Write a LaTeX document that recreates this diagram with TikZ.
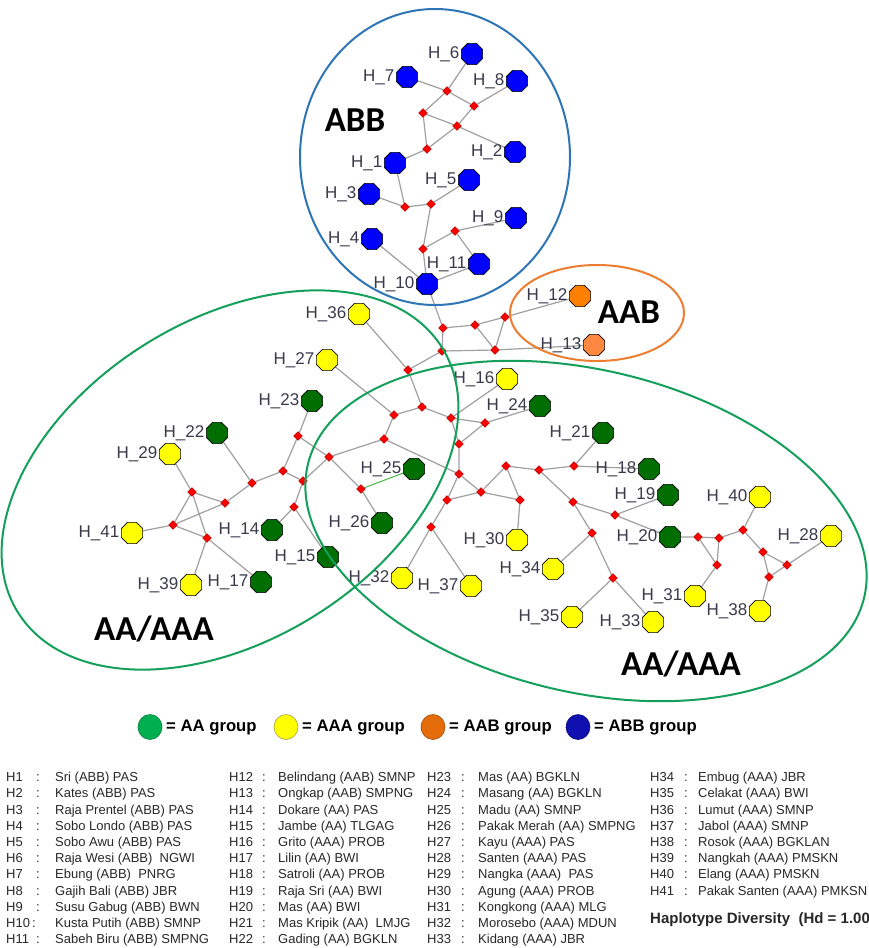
\documentclass[tikz,border=0pt]{standalone}
\usepackage{fontspec}
\setmainfont{Liberation Sans}
\newfontfamily\calfont{Carlito}
\usetikzlibrary{shapes.geometric,backgrounds}
\definecolor{hblue}{RGB}{0,0,255}
\definecolor{hgreen}{RGB}{0,110,0}
\definecolor{hyellow}{RGB}{255,255,0}
\definecolor{horange}{RGB}{255,128,0}
\definecolor{horange2}{RGB}{255,136,64}
\definecolor{mred}{RGB}{255,0,0}
\definecolor{lgray}{RGB}{160,160,160}
\definecolor{labc}{RGB}{58,58,74}
\definecolor{lstc}{RGB}{40,40,40}
\definecolor{cblue}{RGB}{46,117,182}
\definecolor{cgreen}{RGB}{20,160,90}
\definecolor{corange}{RGB}{237,125,49}
\definecolor{lgreen}{RGB}{0,176,80}
\definecolor{lorange}{RGB}{228,108,10}
\definecolor{lblue}{RGB}{16,16,176}
\begin{document}
\begin{tikzpicture}[x=1pt,y=-1pt,
  hap/.style={regular polygon, regular polygon sides=8, minimum size=23pt, inner sep=0pt, draw=black, line width=0.7pt},
  abb/.style={hap, fill=hblue},
  aa/.style={hap, fill=hgreen},
  aaa/.style={hap, fill=hyellow},
  aab/.style={hap, fill=horange},
  med/.style={diamond, fill=mred, draw=mred!60!black, line width=0.4pt, minimum size=9pt, inner sep=0pt},
  lk/.style={draw=lgray, line width=1.2pt},
  lab/.style={font=\fontsize{17}{17}\selectfont, text=labc, inner sep=1.5pt},
  hl/.style={label={[lab]left:#1}},
  grp/.style={font=\calfont\bfseries\fontsize{35}{35}\selectfont, anchor=base, inner sep=0pt},
  ring/.style={line width=2pt},
  lgd/.style={font=\bfseries\fontsize{16.7}{16.7}\selectfont, anchor=west, inner sep=0pt},
  lgm/.style={line width=0.6pt},
  lst/.style={font=\fontsize{13}{13}\selectfont, text=lstc, anchor=base west, inner sep=0pt},
  lsc/.style={font=\fontsize{13}{13}\selectfont, text=lstc, anchor=base, inner sep=0pt}
]
\useasboundingbox (0,0) rectangle (868,948);

% ---------- ABB haplotypes ----------
\node[abb, hl=H\_6]  (H6)  at (472,54) {};
\node[abb, hl=H\_7]  (H7)  at (407,77) {};
\node[abb, hl=H\_8]  (H8)  at (517,81) {};
\node[abb, hl=H\_2]  (H2)  at (515,152) {};
\node[abb, hl=H\_1]  (H1)  at (395,163) {};
\node[abb, hl=H\_5]  (H5)  at (469,180) {};
\node[abb, hl=H\_3]  (H3)  at (369,194) {};
\node[abb, hl=H\_9]  (H9)  at (516,218) {};
\node[abb, hl=H\_4]  (H4)  at (372,239) {};
\node[abb, hl=H\_11] (H11) at (479,264) {};
\node[abb, hl=H\_10] (H10) at (427,284) {};
% ABB medians
\node[med] (m1) at (447,91) {};
\node[med] (m2) at (474,106) {};
\node[med] (m3) at (423,113) {};
\node[med] (m4) at (457,126) {};
\node[med] (m5) at (427,149) {};
\node[med] (m6) at (405,207) {};
\node[med] (m7) at (431,204) {};
\node[med] (m8) at (455,231) {};
\node[med] (m9) at (423,249) {};

% ---------- AAB ----------
\node[aab, hl=H\_12] (H12) at (580,296) {};
\node[hap, fill=horange2, hl=H\_13] (H13) at (594,345) {};

% ---------- central medians ----------
\node[med] (n1) at (443,328) {};
\node[med] (n2) at (475,325) {};
\node[med] (n3) at (505,317) {};
\node[med] (n4) at (442,351) {};
\node[med] (n5) at (495,350) {};
\node[med] (n6) at (408,370) {};
\node[med] (n7) at (422,407) {};
\node[med] (n8) at (394,415) {};
\node[med] (n9) at (451,418) {};
\node[med] (n10) at (485,423) {};
\node[med] (n11) at (384,439) {};
\node[med] (n12) at (459,444) {};
\node[med] (n13) at (329,457) {};
\node[med] (n14) at (303,481) {};
\node[med] (n15) at (361,489) {};
\node[med] (n16) at (459,474) {};
\node[med] (n17) at (481,492) {};
\node[med] (n18) at (506,466) {};
\node[med] (n19) at (539,470) {};
\node[med] (n20) at (574,466) {};
\node[med] (n21) at (520,500) {};
\node[med] (n22) at (447,500) {};
\node[med] (n23) at (431,527) {};
\node[med] (n24) at (573,502) {};
\node[med] (n25) at (592,533) {};
\node[med] (n26) at (615,515) {};
\node[med] (n27) at (613,578) {};
% left medians
\node[med] (q1) at (298,436) {};
\node[med] (q2) at (283,471) {};
\node[med] (q4) at (252,483) {};
\node[med] (q5) at (294,507) {};
\node[med] (q6) at (225,503) {};
\node[med] (q7) at (192,492) {};
\node[med] (q8) at (173,525) {};
\node[med] (q9) at (207,538) {};
% right medians
\node[med] (p1) at (698,537) {};
\node[med] (p2) at (719,538) {};
\node[med] (p3) at (717,565) {};
\node[med] (p4) at (743,530) {};
\node[med] (p5) at (763,552) {};
\node[med] (p6) at (787,565) {};
\node[med] (p7) at (769,577) {};

% ---------- AA / AAA haplotypes ----------
\node[aaa, hl=H\_36] (H36) at (359,314) {};
\node[aaa, hl=H\_27] (H27) at (327,360) {};
\node[aa,  hl=H\_23] (H23) at (312,401) {};
\node[aa,  hl=H\_22] (H22) at (217,433) {};
\node[aaa, hl=H\_29] (H29) at (170,454) {};
\node[aaa, hl=H\_41] (H41) at (132,533) {};
\node[aaa, hl=H\_39] (H39) at (191,585) {};
\node[aa,  hl=H\_17] (H17) at (261,582) {};
\node[aa,  hl=H\_14] (H14) at (272,530) {};
\node[aa,  hl=H\_15] (H15) at (328,557) {};
\node[aa,  hl=H\_26] (H26) at (382,523) {};
\node[aa,  hl=H\_25] (H25) at (414,469) {};
\node[aaa, hl=H\_32] (H32) at (402,578) {};
\node[aaa, hl=H\_37] (H37) at (471,586) {};
\node[aaa, hl=H\_16] (H16) at (507,379) {};
\node[aa,  hl=H\_24] (H24) at (540,406) {};
\node[aa,  hl=H\_21] (H21) at (603,433) {};
\node[aa,  hl=H\_18] (H18) at (649,469) {};
\node[aa,  hl=H\_19] (H19) at (668,495) {};
\node[aa,  hl=H\_20] (H20) at (670,537) {};
\node[aaa, hl=H\_30] (H30) at (517,540) {};
\node[aaa, hl=H\_34] (H34) at (553,569) {};
\node[aaa, hl=H\_35] (H35) at (572,617) {};
\node[aaa, hl=H\_33] (H33) at (653,622) {};
\node[aaa, hl=H\_31] (H31) at (695,596) {};
\node[aaa, hl=H\_40] (H40) at (760,497) {};
\node[aaa, hl=H\_28] (H28) at (831,536) {};
\node[aaa, hl=H\_38] (H38) at (760,611) {};

% ---------- links ----------
\begin{scope}[on background layer]
\fill[white] (0,0) rectangle (868,948);
\draw[lk] (H6)--(m1) (H7)--(m1) (m1)--(m2) (m2)--(H8) (m1)--(m3)
  (m3)--(m4) (m4)--(H2) (m2)--(m4) (m4)--(m5) (m3)--(m5) (m5)--(H1)
  (H1)--(m6) (H3)--(m6) (m6)--(m7) (m7)--(H5) (m7)--(m9) (m9)--(m8)
  (m8)--(H9) (m8)--(H11) (H11)--(H10) (m9)--(H10) (H4)--(H10) (H10)--(n1);
\draw[lk] (n1)--(n2) (n2)--(n3) (n3)--(H12) (n1)--(n4) (n2)--(n5) (n3)--(n5)
  (n4)--(n5) (n5)--(H13) (n4)--(n6) (H36)--(n6) (n6)--(n7) (H27)--(n8)
  (n8)--(n7) (n7)--(n9) (n9)--(H16) (n9)--(n10) (n10)--(H24) (n9)--(n12)
  (n10)--(n12) (n8)--(n11) (n11)--(n16) (n12)--(n16) (n16)--(n17) (n16)--(n22)
  (n22)--(n17) (n17)--(n21) (n17)--(n18) (n18)--(n21) (n18)--(n19) (n19)--(n20)
  (n20)--(H21) (n20)--(H18) (n19)--(n24) (n24)--(n26) (n26)--(H19) (n26)--(H20)
  (n24)--(n25) (n25)--(H34) (n25)--(n27) (n27)--(H35) (n27)--(H33) (n21)--(H30)
  (n22)--(n23) (n23)--(H32) (n23)--(H37);
\draw[lk] (n11)--(n13) (q1)--(n13) (n13)--(n15) (n15)--(H26) (n13)--(n14)
  (H23)--(q1) (q1)--(q2) (q2)--(n14) (q2)--(q4) (n14)--(q5) (q5)--(H14) (q5)--(H15)
  (q4)--(H22) (q4)--(q6) (q6)--(q7) (q7)--(H29) (q7)--(q8) (q6)--(q8) (q8)--(H41)
  (q8)--(q9) (q9)--(H39) (q7)--(q9) (q9)--(H17);
\draw[draw=green!60!black!70, line width=1pt] (n15)--(H25);
\draw[lk] (H20)--(p1) (p1)--(p2) (p1)--(p3) (p2)--(p3) (p3)--(H31) (p2)--(p4)
  (p4)--(H40) (p4)--(p5) (p5)--(p6) (p5)--(p7) (p6)--(p7) (p6)--(H28) (p7)--(H38);
\end{scope}

% ---------- group outlines ----------
\draw[ring, cblue] (435,157) ellipse [x radius=135, y radius=148];
\draw[ring, corange] (597,313) ellipse [x radius=87, y radius=48];
\draw[ring, cgreen, rotate around={32:(230,480)}] (230,480) ellipse [x radius=250, y radius=160];
\draw[ring, cgreen, rotate around={-13.5:(586,531)}] (586,531) ellipse [x radius=286, y radius=161];

\node[grp] (gABB) at (355,131) {ABB};
\node[grp] (gAAB) at (629,323) {AAB};
\node[grp] (gL) at (154,640) {AA/AAA};
\node[grp] (gR) at (681,675) {AA/AAA};

% ---------- legend ----------
\draw[lgm, fill=lgreen, draw=lgreen!70!black] (150,727) ellipse [x radius=12, y radius=12.5];
\node[lgd] (lg1) at (166,728) {= AA group};
\draw[lgm, fill=hyellow, draw=yellow!60!black] (286,727) ellipse [x radius=12, y radius=12.5];
\node[lgd] (lg2) at (302,728) {= AAA group};
\draw[lgm, fill=lorange, draw=lorange!70!black] (433,727) ellipse [x radius=12, y radius=12.5];
\node[lgd] (lg3) at (449,728) {= AAB group};
\draw[lgm, fill=lblue, draw=lblue!70!black] (578,727) ellipse [x radius=12, y radius=12.5];
\node[lgd] (lg4) at (594,728) {= ABB group};

% ---------- list ----------
\foreach \h/\t [count=\k from 0] in {H1/Sri (ABB) PAS, H2/Kates (ABB) PAS, H3/Raja Prentel (ABB) PAS,
  H4/Sobo Londo (ABB) PAS, H5/Sobo Awu (ABB) PAS, H6/Raja Wesi (ABB)\ \ NGWI, H7/Ebung (ABB)\ \ PNRG,
  H8/Gajih Bali (ABB) JBR, H9/Susu Gabug (ABB) BWN, H10/Kusta Putih (ABB) SMNP, H11/Sabeh Biru (ABB) SMPNG}{
  \node[lst] (a\k) at (6,781.7+16.2*\k) {\h};
  \node[lsc] (ac\k) at ({\k==9 ? 34 : 38},781.7+16.2*\k) {:};
  \node[lst] (at\k) at (55,781.7+16.2*\k) {\t};
}
\foreach \h/\t [count=\k from 0] in {H12/Belindang (AAB) SMNP, H13/Ongkap (AAB) SMPNG, H14/Dokare (AA) PAS,
  H15/Jambe (AA) TLGAG, H16/Grito (AAA) PROB, H17/Lilin (AA) BWI, H18/Satroli (AA) PROB,
  H19/Raja Sri (AA) BWI, H20/Mas (AA) BWI, H21/Mas Kripik (AA)\ \ LMJG, H22/Gading (AA) BGKLN}{
  \node[lst] (b\k) at (229,781.7+16.2*\k) {\h};
  \node[lsc] (bc\k) at (264,781.7+16.2*\k) {:};
  \node[lst] (bt\k) at (278,781.7+16.2*\k) {\t};
}
\foreach \h/\t [count=\k from 0] in {H23/Mas (AA) BGKLN, H24/Masang (AA) BGKLN, H25/Madu (AA) SMNP,
  H26/Pakak Merah (AA) SMPNG, H27/Kayu (AAA) PAS, H28/Santen (AAA) PAS, H29/Nangka (AAA)\ \ PAS,
  H30/Agung (AAA) PROB, H31/Kongkong (AAA) MLG, H32/Morosebo (AAA) MDUN, H33/Kidang (AAA) JBR}{
  \node[lst] (c\k) at (427,781.7+16.2*\k) {\h};
  \node[lsc] (cc\k) at (463,781.7+16.2*\k) {:};
  \node[lst] (ct\k) at (478,781.7+16.2*\k) {\t};
}
\foreach \h/\t [count=\k from 0] in {H34/Embug (AAA) JBR, H35/Celakat (AAA) BWI, H36/Lumut (AAA) SMNP,
  H37/Jabol (AAA) SMNP, H38/Rosok (AAA) BGKLAN, H39/Nangkah (AAA) PMSKN, H40/Elang (AAA) PMSKN,
  H41/Pakak Santen (AAA) PMKSN}{
  \node[lst] (d\k) at (650,781.7+16.2*\k) {\h};
  \node[lsc] (dc\k) at (686,781.7+16.2*\k) {:};
  \node[lst] (dt\k) at (698,781.7+16.2*\k) {\t};
}
\node[lst, font=\bfseries\fontsize{15}{15}\selectfont] (hd) at (650,923) {Haplotype Diversity\ \ (Hd = 1.00};
\end{tikzpicture}
\end{document}
